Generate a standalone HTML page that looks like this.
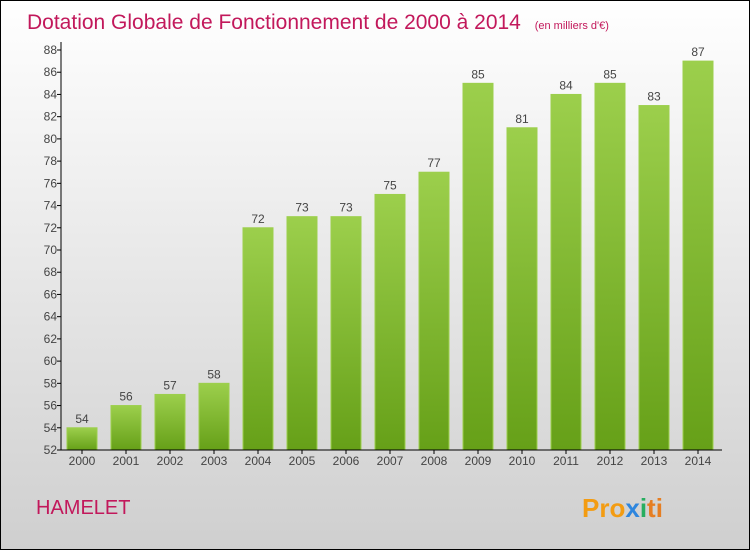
<!DOCTYPE html>
<html><head><meta charset="utf-8"><style>
body{margin:0}
svg{display:block;font-family:"Liberation Sans",sans-serif}
</style></head><body>
<svg id="c" width="750" height="550">
<defs>
<linearGradient id="bg" x1="0" y1="0" x2="0" y2="1"><stop offset="0" stop-color="#ffffff"/><stop offset="1" stop-color="#cfcfcf"/></linearGradient>
<linearGradient id="bar" x1="0" y1="0" x2="0" y2="1"><stop offset="0" stop-color="#9ccf4c"/><stop offset="1" stop-color="#66a018"/></linearGradient>
</defs>
<rect x="0.5" y="0.5" width="749" height="549" fill="url(#bg)" stroke="#000"/>
<text x="27" y="29" font-size="21" font-weight="normal" fill="#c2185b">Dotation Globale de Fonctionnement de 2000 à 2014 <tspan font-size="11" dx="8">(en milliers d'€)</tspan></text>
<text x="36" y="514" font-size="20" fill="#c2185b">HAMELET</text>
<text x="582" y="517" font-size="26" font-weight="bold" fill="#f39c12">Pro<tspan fill="#2e86de">x</tspan><tspan fill="#27ae60">i</tspan><tspan fill="#e67e22">ti</tspan></text>
<g id="plot"></g>
</svg>
<script>
const years=["2000","2001","2002","2003","2004","2005","2006","2007","2008","2009","2010","2011","2012","2013","2014"];
const values=[54,56,57,58,72,73,73,75,77,85,81,84,85,83,87];
const yTicks=[52,54,56,58,60,62,64,66,68,70,72,74,76,78,80,82,84,86,88];
const ns="http://www.w3.org/2000/svg";
const plotG=document.getElementById('plot');
const yMin=52,yMax=88,plotTop=50,plotBot=450,x0=61,step=44;
const yS=v=>plotBot-(v-yMin)/(yMax-yMin)*(plotBot-plotTop);
const xc=i=>82+i*step;
function mk(t,a){const e=document.createElementNS(ns,t);for(const k in a)e.setAttribute(k,a[k]);plotG.appendChild(e);return e;}
values.forEach((v,i)=>{
 const r=mk('rect',{x:xc(i)-15,y:yS(v),width:30,height:plotBot-yS(v),fill:'url(#bar)',stroke:'#9ccf4c','stroke-width':1});
 
 
 const t=mk('text',{x:xc(i),y:yS(v)-5,'font-size':12,'text-anchor':'middle',fill:'#444'});t.textContent=v;
 
 
 const xl=mk('text',{x:xc(i),y:plotBot+15,'font-size':12,'text-anchor':'middle',fill:'#444'});xl.textContent=years[i];
 
 
 mk('line',{x1:xc(i),x2:xc(i),y1:plotBot,y2:plotBot+4,stroke:'#000'});
});
yTicks.forEach(v=>{
 mk('line',{x1:x0-4,x2:x0,y1:yS(v),y2:yS(v),stroke:'#000'});
 const t=mk('text',{x:x0-4,y:yS(v)+4,'font-size':12,'text-anchor':'end',fill:'#444'});t.textContent=v;
 
 
});
const ya=mk('line',{x1:x0,x2:x0,y1:plotTop-8,y2:plotBot,stroke:'#000'});


const xa=mk('line',{x1:x0-4,x2:722,y1:plotBot,y2:plotBot,stroke:'#000'});


</script>
</body></html>
